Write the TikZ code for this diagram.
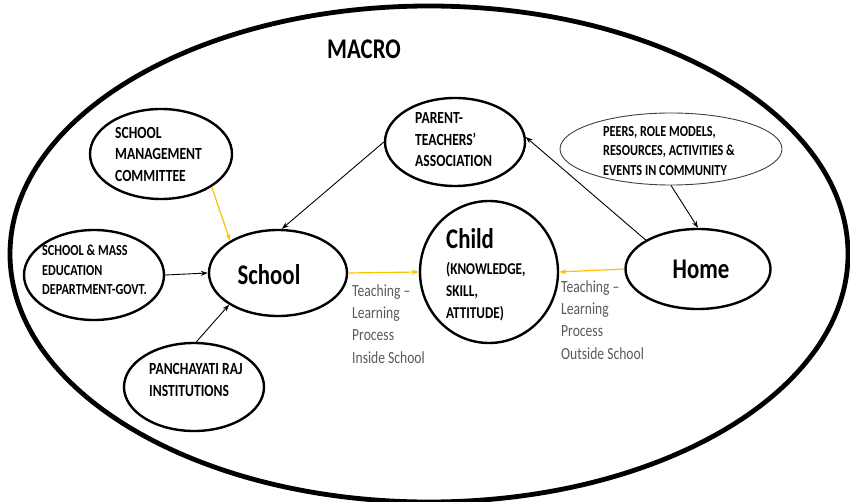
\documentclass[tikz,border=0pt]{standalone}
\usepackage{fontspec}
\setmainfont{Carlito}[FakeStretch=0.8]
\usetikzlibrary{shapes.geometric,arrows.meta}
\definecolor{gold}{HTML}{FFC000}
\definecolor{lblgray}{HTML}{595959}
\tikzset{
  bub/.style={draw=black,ellipse,line width=2.4pt,inner sep=0pt},
  thinbub/.style={draw=black!75,ellipse,line width=0.9pt,inner sep=0pt},
  conn/.style={line width=0.9pt,-{Stealth[length=7pt,width=5pt]}},
  yconn/.style={draw=gold,line width=1.2pt,-{Stealth[length=7pt,width=5pt]}},
  smalltxt/.style={inner sep=0pt,align=left,font=\fontsize{17}{21.5}\selectfont\bfseries},
  tinytxt/.style={inner sep=0pt,align=left,font=\fontsize{15.3}{19.5}\selectfont\bfseries},
  bigtxt/.style={inner sep=0pt,font=\fontsize{28.5}{32}\selectfont\bfseries},
  lbltxt/.style={inner sep=0pt,align=left,text=lblgray,font=\fontsize{17}{22.3}\selectfont}
}
\begin{document}
\begin{tikzpicture}[x=1pt,y=-1pt]
\useasboundingbox (0,0) rectangle (850,502);
% outer macro ellipse
\node[draw=black,ellipse,line width=4.8pt,minimum width=838pt,minimum height=496pt,inner sep=0pt] (macro) at (429,254) {};
\node[bigtxt] (macrotxt) at (364,49) {MACRO};

% ellipses
\node[bub,minimum width=142pt,minimum height=90pt] (smc) at (161,154) {};
\node[bub,minimum width=140pt,minimum height=90pt] (smed) at (94,275) {};
\node[bub,minimum width=138pt,minimum height=86pt] (school) at (278,273) {};
\node[bub,minimum width=140pt,minimum height=88pt] (pan) at (194,387) {};
\node[bub,minimum width=140pt,minimum height=88pt] (pta) at (455,142) {};
\node[thinbub,minimum width=222pt,minimum height=72pt] (peers) at (671,149) {};
\node[bub,minimum width=138pt,minimum height=142pt] (child) at (489,272) {};
\node[bub,minimum width=145pt,minimum height=80pt] (home) at (698,269) {};

% texts
\node[smalltxt,anchor=west] (smctxt) at (115,154) {SCHOOL\\MANAGEMENT\\COMMITTEE};
\node[tinytxt,anchor=west] (smedtxt) at (42,270) {SCHOOL \& MASS\\EDUCATION\\DEPARTMENT-GOVT.};
\node[smalltxt,anchor=west] (ptatxt) at (415,140) {PARENT-\\TEACHERS’\\ASSOCIATION};
\node[tinytxt,anchor=west] (peerstxt) at (603,151) {PEERS, ROLE MODELS,\\RESOURCES, ACTIVITIES \&\\EVENTS IN COMMUNITY};
\node[smalltxt,anchor=west] (pantxt) at (149,380) {PANCHAYATI RAJ\\INSTITUTIONS};
\node[bigtxt] (schooltxt) at (269,275) {School};
\node[bigtxt] (hometxt) at (701,269) {Home};
\node[bigtxt,anchor=west] (childtxt) at (446,239) {Child};
\node[smalltxt,anchor=west,font=\fontsize{16.5}{22}\selectfont\bfseries] (childsub) at (446,292) {(KNOWLEDGE,\\SKILL,\\ATTITUDE)};
\node[lbltxt,anchor=west] (lblin) at (352,324) {Teaching –\\Learning\\Process\\Inside School};
\node[lbltxt,anchor=west] (lblout) at (561,320) {Teaching –\\Learning\\Process\\Outside School};

% connectors
\draw[yconn] (smc.-33) -- (school.146);
\draw[conn] (smed.east) -- (school.west);
\draw[conn] (pan.87) -- (school.-147);
\draw[conn] (pta.180) -- (school.85);
\draw[conn] (home.151) -- (pta.4);
\draw[conn] (peers.-90) -- (home.north);
\draw[yconn] (school.east) -- (child.west);
\draw[yconn] (home.west) -- (child.east);
\end{tikzpicture}
\end{document}
